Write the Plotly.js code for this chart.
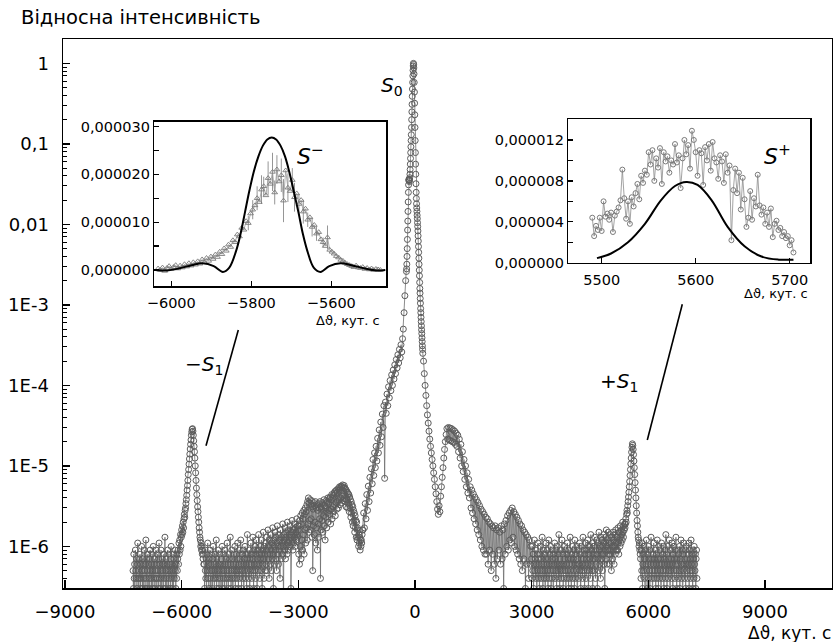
<!DOCTYPE html>
<html><head><meta charset="utf-8">
<script src="https://cdn.plot.ly/plotly-3.0.1.min.js"></script>
<style>html,body{margin:0;padding:0;background:#fff}#chart{width:833px;height:642px}</style>
</head><body><div id="chart"></div>
<script>
// ===================== DATA =====================
// Main scan: relative intensity vs. angle (arc seconds).
// Low-intensity parts are stored as detector counts (1 count = COUNT of relative intensity).
const COUNT = 1e-7;
const MICRO = 1e-6;   // inset values are stored in units of 1e-6

const floorLeftStart = -7250, floorLeftStep = 10;
const floorLeftCounts = [
5,3,8,4,6,2,9,5,4,7,3,6,11,4,5,2,7,4,8,3,
6,4,10,5,3,7,2,6,4,9,5,3,6,12,4,7,3,5,8,2,
6,4,7,3,9,5,4,6,2,8,5,3,10,4,6,7,3,5,4,9,
2,6,4,8,5,3,7,11,4,6,3,5,9,4,2,7,5,6,3,8,
4,6,13,3,5,7,4,2,6,9,5,3,8,4,6,5,3,7,10,4,
6,3,5,8,2,7,4,6,9,5,3,6,4,8,5,7];

const peakMinusStart = -6090, peakMinusStep = 10;
const peakMinusCounts = [9,6,11,8,12,9,14,10,13,16,14,18,15,20,17,22,25,23,28,30,
34,38,43,50,57,66,78,90,105,122,140,162,185,210,240,265,285,290,270,240,
205,175,150,125,100,82,66,53,44,37,31,27,23,20,17,15,13,12,10,11,
9,10,8,9,7,8,6];

const floorMidStart = -5420, floorMidStep = 10;
const floorMidCounts = [
6,3,9,5,4,7,2,8,5,11,4,6,3,7,5,9,4,2,6,8,
5,3,7,10,4,6,2,5,8,4,6,12,3,7,5,4,9,6,3,5,
8,4,6,2,7,5,10,3,6,4,8,5,3,9,6,4,7,2,5,11,
4,6,3,8,5,7,4,13,6,3,5,9,4,7,2,6,8,5,4,10,
3,6,5,8,4,7,11,5,3,6,9,4,7,5,12,6,3,8,5,4,
9,6,2,7,5,10,4,8,6,3,7,14,5,8,4,6,9,3,7,5,
11,6,4,8,5,13,7,3,9,6,5,10,4,8,12,6,3,7,9,5,
14,6,8,4,10,7,5,12,8,3,9,6,15,7,4,10,8,5,11,6,
9,13,5,8,16,7,10,4,12,8,6,14,9,5,11,7,17,8,3,12,
10,6,15,9,7,13,5,11,18,8,10,6,14,9,12,4,16,10,7,13,
11,8,19,10,2,14,12,9,17,7,13,10,15,8,20,11,9,16,12,14,
10,18,13,3,15,11,21,12,9,16,14,11,19,13,10,17,15,12,22,14,
13,18,16];

const bumpsStart = -2990, bumpsStep = 10;
const bumpsCounts = [
8,18,6,21,10,24,7,19,12,26,
9,22,14,28,8,25,16,30,11,27,
17,33,12,36,19,40,15,35,21,38,
16,34,22,37,13,31,5,29,18,35,
14,32,20,36,11,30,17,33,9,28,
19,34,13,30,22,36,4,31,16,29,
21,35,15,33,24,38,18,32,12,30,
23,37,17,35,26,40,20,34,28,39,
25,41,19,38,29,44,22,40,31,43,
27,46,33,48,24,45,35,50,29,47,
36,52,30,50,38,55,33,53,40,56,
35,55,42,58,37,54,44,57,39,53,
36,51,31,49,38,47,30,45,34,44,
27,41,30,38,23,36,26,33,20,31,
18,28,21,26,15,24,17,21,13,20,
12,17,13,16,10,14,11,13,9,12,
10,12,11,14,16];

const riseStart = -1340, riseStep = 20;
const riseVals = [1.6e-6,2.6e-6,1.7e-6,3.4e-6,2.2e-6,4.4e-6,2.8e-6,5.6e-6,3.6e-6,7.2e-6,
4.6e-6,9.2e-6,6.0e-6,1.2e-5,7.6e-6,1.45e-5,9.5e-6,1.75e-5,1.15e-5,2.2e-5,
1.45e-5,2.8e-5,1.8e-5,3.5e-5,2.3e-5,4.4e-5,3.0e-5,5.6e-5,7e-6,6.2e-5,
4.5e-5,7.8e-5,5.6e-5,9.6e-5,7.0e-5,1.15e-4,8.6e-5,1.35e-4,1.0e-4,1.55e-4,
1.2e-4,1.8e-4,1.4e-4,2.1e-4,1.65e-4,2.4e-4,1.9e-4,2.8e-4,2.2e-4,3.2e-4,
2.6e-4,3.8e-4,5.0e-4,8.0e-4,1.3e-3,2.0e-3,2.6e-3];

const centerStart = -215, centerStep = 5;
const centerVals = [2.8e-3,3.2e-3,4.0e-3,5.0e-3,6.5e-3,8.5e-3,1.1e-2,1.45e-2,1.9e-2,2.5e-2,
3.1e-2,3.6e-2,3.5e-2,3.6e-2,3.4e-2,3.6e-2,3.8e-2,4.2e-2,4.8e-2,5.6e-2,
6.6e-2,7.8e-2,9.2e-2,0.11,0.13,0.16,0.2,0.25,0.31,0.39,
0.48,0.58,0.7,0.82,0.93,1.0,0.97,0.88,0.74,0.58,
0.44,0.32,0.23,0.16,0.11,0.078,0.056,0.042,0.032,0.025,
0.021,0.018,0.016,0.0145,0.013,0.0118,0.0105,0.0094,0.0083,0.0072,
0.0062,0.0053,0.0045,0.0038,0.0032,0.0027,0.0023,0.0019,0.0016,0.0014,
0.0012,0.00105,9e-4,8e-4,7e-4,6.2e-4,5.5e-4,4.9e-4,4.4e-4,3.9e-4,
3.5e-4,3.1e-4,2.8e-4,2.5e-4];

const wingStart = 220, wingStep = 20;
const wingCounts = [
2000,1400,1000,750,560,430,340,270,215,175,145,120,100,82,68,55,45,36,29,25,
32,27,42,55,72,95,125,160,200,245,290,215,300,210,295,205,290,200,280,195,
270,185,255,175,240,150,215,125,185,100,150,85,120,68,100,55,82,46,68,40,
55,30,50,26,45,22,41,19,38,16,35,14,32,12,29,10,27,9,25,8,
23,8,22,6,20,9,19,5,18,8,17,6,18,4,16,7,17,9,15,6,
18,7,16,3,19,8,21,10,24,9,26,12,28,11,30,13,27,10,25,9,
23,8,21,7,19,6,18,5,16,7,15,3,14,6,13,4,12,6,10];

const floorRightStart = 3000, floorRightStep = 10;
const floorRightCounts = [
7,4,10,5,8,3,6,12,5,7,4,9,6,2,8,5,11,4,7,6,
3,8,5,10,4,7,6,13,5,3,9,6,4,8,5,2,7,11,4,6,
9,5,3,7,12,4,6,8,5,10,3,6,4,9,7,5,2,8,6,11,
4,7,5,9,3,6,10,5,8,4,14,6,3,7,5,9,4,6,12,5,
8,3,6,4,10,7,5,9,2,6,8,4,11,5,7,3,9,6,4,13,
5,7,3,8,6,10,4,7,5,9,3,12,6,4,8,5,10,2,7,6,
9,4,6,11,5,8,3,7,10,5,6,4,13,7,5,9,3,8,6,11,
4,7,9,5,12,6,3,8,10,5,7,4,14,6,9,5,11,3,8,7,
10,5,13,7,4,9,6,12,8,3,11,7,5,15,9,6,10,4,13,8,
7,12,5,10,8,14,6,11,3,9,13,7,16,10,6,12,9,15,8,11,
9,6,14,8,11,5,13,10,7,15,9,12,6,14,10,8,16,11,9,13,
13,9,17,11,8,15,12,10,18,13,11,16,14,12,20,15,13,18,16,19,
17];

const peakPlusStart = 5410, peakPlusStep = 10;
const peakPlusCounts = [19,22,20,25,28,26,32,36,41,47,55,64,76,90,106,125,148,170,188,180,
160,138,115,95,78,62,50,40,32,26,21,18,15,13,12,10,11,9,8];

const floorFarStart = 5800, floorFarStep = 10;
const floorFarCounts = [
7,4,9,5,11,3,6,8,5,10,4,7,2,9,6,12,5,3,8,6,
4,10,7,5,3,9,6,13,4,7,5,2,8,6,11,4,7,5,9,3,
6,8,4,12,5,7,3,10,6,4,9,5,7,2,11,6,4,8,5,10,
3,7,6,9,4,14,5,8,3,6,10,4,7,5,12,6,2,9,5,7,
4,11,6,3,8,5,10,7,4,9,6,13,5,3,7,6,9,4,8,5,
10,3,7,5,12,4,6,9,2,8,5,11,6,4,7,9,3,6,10,5,
7,4,8,6,11,3,9,5,7,4,12,6,5,8,3,9,7,4,10,6,
5,8,3,7,9,4];

// Inset S− : measured points (with error bars) and calculated curve
const sMinusStart = -6033, sMinusStep = 5.5;
const sMinusE6 = [0.3,0.0,0.5,-0.2,0.4,0.8,0.2,0.6,1.0,0.3,0.9,0.5,1.2,0.7,1.4,0.9,1.6,1.1,1.8,1.3,
2.2,1.6,2.5,1.9,2.8,2.3,3.2,2.7,3.8,3.3,4.5,4.0,5.3,4.8,6.2,5.8,7.4,7.0,8.8,8.4,
10.2,9.8,11.8,12.6,13.5,15.0,14.2,16.8,17.5,15.6,19.2,18.0,20.5,16.2,21.0,18.5,19.8,14.5,20.8,17.2,
16.5,18.8,15.2,16.0,13.8,14.6,12.2,12.8,10.5,11.0,9.0,9.4,7.6,7.9,6.4,5.8,5.0,6.8,4.2,3.8,
3.4,2.9,2.6,2.1,1.9,1.5,1.2,1.0,0.8,0.6,0.9,0.5,0.4,0.6,0.2,0.4,0.1,0.3,0.0,0.2,
0.1,0.0];
const sMinusErrE6 = [0,0,0,0,0,0,0,0,0,0,0,0,0,0,0,0,0,0,0,0,
0,0,0,0,0,0,0,0,0,0,0,0,0,0,0,0,0,0,0,0,
0,1.5,0,2.0,0,2.5,0,3.0,2.0,0,3.5,0,4.0,2.5,3.0,0,3.5,4.5,0,3.0,
0,2.5,3.0,0,2.0,0,2.5,0,1.5,0,2.0,0,1.5,0,0,1.0,0,2.5,0,0,
0,0,0,0,0,0,0,0,0,0,0,0,0,0,0,0,0,0,0,0,
0,0];
const sMinusFitX = [-6040,-6010,-5982,-5949,-5921,-5894,-5871,-5855,-5838,-5827,-5816,-5805,-5794,-5782,-5771,-5760,-5749,-5738,-5727,-5716,-5705,-5694,-5682,-5671,-5660,-5644,-5627,-5605,-5577,-5549,-5516,-5488,-5465];
const sMinusFitE6 = [0,-0.1,0.3,1.0,1.4,0.8,-0.4,0.5,4.0,7.5,12.0,16.5,20.5,23.8,26.0,27.3,27.7,27.3,26.0,23.8,20.5,16.5,12.0,7.5,4.0,0.5,-0.4,0.8,1.4,1.0,0.3,-0.1,0];

// Inset S+
const sPlusStart = 5490, sPlusStep = 2;
const sPlusE6 = [4.4,2.6,3.6,3.2,4.4,3.1,6.0,4.5,4.8,4.2,4.9,3.0,4.6,5.0,5.4,6.1,9.1,6.3,4.3,6.0,
3.8,6.4,5.5,6.8,7.7,6.2,8.5,7.8,9.0,8.6,10.8,9.6,11.0,8.0,10.2,9.3,11.2,7.7,10.8,9.9,
10.4,8.8,10.0,9.6,11.6,9.8,10.5,7.3,10.2,12.0,10.6,11.5,9.2,12.9,12.0,10.8,8.5,11.0,10.7,7.6,
11.3,10.0,11.6,9.0,11.8,10.2,9.8,8.2,10.5,9.9,7.8,10.6,8.8,9.5,2.2,7.1,9.2,6.8,8.8,5.2,
8.3,6.2,3.5,4.4,7.0,4.2,6.3,5.5,8.6,5.6,4.7,5.4,3.8,4.9,3.5,5.3,2.5,3.8,4.1,3.2,
3.4,2.6,3.0,2.4,2.6,1.7,2.2,1.0];
const sPlusFitX = [5495,5510,5528,5546,5563,5578,5590,5602,5617,5634,5652,5670,5688,5704];
const sPlusFitE6 = [0.45,0.9,2.0,3.8,6.1,7.5,7.9,7.6,6.1,3.5,1.6,0.6,0.3,0.3];

// Tick labels (empty label = unlabelled intermediate tick)
const mainXTicks = [-9000,-6000,-3000,0,3000,6000,9000];
const mainXLabels = ['\u22129000','\u22126000','\u22123000','0','3000','6000','9000'];
const mainYTicks = [1e-6,1e-5,1e-4,1e-3,0.01,0.1,1];
const mainYLabels = ['1E-6','1E-5','1E-4','1E-3','0,01','0,1','1'];
const inset1YTicks = [0,5e-6,1e-5,1.5e-5,2e-5,2.5e-5,3e-5];
const inset1YLabels = ['0,000000','','0,000010','','0,000020','','0,000030'];
const inset1XTicks = [-6000,-5800,-5600];
const inset1XLabels = ['\u22126000','\u22125800','\u22125600'];
const inset2YTicks = [0,2e-6,4e-6,6e-6,8e-6,1e-5,1.2e-5];
const inset2YLabels = ['0,000000','','0,000004','','0,000008','','0,000012'];
const inset2XTicks = [5500,5600,5700];
const inset2XLabels = ['5500','5600','5700'];

// ===================== BUILD =====================
const mx = [], my = [];
function addSeg(start, step, vals, scale){
  vals.forEach((v,i)=>{ mx.push(start+i*step); my.push(v*scale); });
}
addSeg(floorLeftStart, floorLeftStep, floorLeftCounts, COUNT);
addSeg(peakMinusStart, peakMinusStep, peakMinusCounts, COUNT);
addSeg(floorMidStart, floorMidStep, floorMidCounts, COUNT);
addSeg(bumpsStart, bumpsStep, bumpsCounts, COUNT);
addSeg(riseStart, riseStep, riseVals, 1);
addSeg(centerStart, centerStep, centerVals, 1);
addSeg(wingStart, wingStep, wingCounts, COUNT);
addSeg(floorRightStart, floorRightStep, floorRightCounts, COUNT);
addSeg(peakPlusStart, peakPlusStep, peakPlusCounts, COUNT);
addSeg(floorFarStart, floorFarStep, floorFarCounts, COUNT);

const s1x = sMinusE6.map((v,i)=>sMinusStart+i*sMinusStep);
const s1y = sMinusE6.map(v=>v*MICRO);
const s1e = sMinusErrE6.map(v=>v*MICRO);
const s2x = sPlusE6.map((v,i)=>sPlusStart+i*sPlusStep);
const s2y = sPlusE6.map(v=>v*MICRO);

const GRAY = '#7a7a7a';
const traces = [
  {x:mx, y:my, type:'scatter', mode:'lines+markers', xaxis:'x', yaxis:'y',
   line:{color:'#6e6e6e', width:0.8},
   marker:{symbol:'circle-open', size:6, color:'#5c5c5c', line:{width:1}}},
  {x:s1x, y:s1y, type:'scatter', mode:'lines+markers', xaxis:'x2', yaxis:'y2',
   line:{color:'#9a9a9a', width:0.8},
   marker:{symbol:'triangle-up-open', size:5, color:GRAY, line:{width:0.9}},
   error_y:{type:'data', array:s1e, visible:true, color:'#8a8a8a', thickness:0.9, width:0}},
  {x:sMinusFitX, y:sMinusFitE6.map(v=>v*MICRO), type:'scatter', mode:'lines', xaxis:'x2', yaxis:'y2',
   line:{color:'#000', width:2, shape:'spline', smoothing:1}},
  {x:s2x, y:s2y, type:'scatter', mode:'lines+markers', xaxis:'x3', yaxis:'y3',
   line:{color:'#8c8c8c', width:0.8},
   marker:{symbol:'circle-open', size:5, color:GRAY, line:{width:1}}},
  {x:sPlusFitX, y:sPlusFitE6.map(v=>v*MICRO), type:'scatter', mode:'lines', xaxis:'x3', yaxis:'y3',
   line:{color:'#000', width:2, shape:'spline', smoothing:1}}
];

// ===================== LAYOUT =====================
const W=833, H=642, ML=63, MR=1, MT=39, MB=54;
const PW = W-ML-MR, PH = H-MT-MB;
const px = v => (v-ML)/PW;          // pixel x -> paper
const py = v => (H-MB-v)/PH;        // pixel y -> paper

const minorLog = [];
for (let e=-7;e<=0;e++) for (let m=2;m<=9;m++) minorLog.push(m*Math.pow(10,e));

const FONT = 'DejaVu Sans, Verdana, sans-serif';
const frame = {showline:true, linecolor:'#000', linewidth:1.5, mirror:true, showgrid:false, zeroline:false,
  ticks:'inside', tickcolor:'#000', tickwidth:1.3};

const layout = {
  width:W, height:H, margin:{l:ML,r:MR,t:MT,b:MB,pad:0},
  paper_bgcolor:'#fff', plot_bgcolor:'rgba(0,0,0,0)', showlegend:false,
  font:{family:FONT, color:'#000'},
  xaxis:Object.assign({}, frame, {domain:[0,1], anchor:'y', range:[-9051,10723],
    tickmode:'array', tickvals:mainXTicks, ticktext:mainXLabels, ticklen:8, ticklabelstandoff:7,
    tickfont:{size:18, family:FONT}}),
  yaxis:Object.assign({}, frame, {domain:[0,1], anchor:'x', type:'log', range:[-6.517,0.303],
    tickmode:'array', tickvals:mainYTicks, ticktext:mainYLabels, ticklen:7, ticklabelstandoff:9,
    tickfont:{size:18, family:FONT},
    minor:{tickmode:'array', tickvals:minorLog, ticks:'inside', ticklen:4, tickcolor:'#000', tickwidth:1, showgrid:false}}),
  xaxis2:Object.assign({}, frame, {domain:[px(154.3),px(386)], anchor:'y2', range:[-6042.5,-5463.3],
    tickmode:'array', tickvals:inset1XTicks, ticktext:inset1XLabels, ticklen:5, ticklabelstandoff:3,
    tickfont:{size:14.5, family:FONT}}),
  yaxis2:Object.assign({}, frame, {domain:[py(286),py(121.7)], anchor:'x2', range:[-3.35e-6,3.1e-5],
    tickmode:'array', tickvals:inset1YTicks, ticktext:inset1YLabels, ticklen:5,
    tickfont:{size:14.5, family:FONT}}),
  xaxis3:Object.assign({}, frame, {domain:[px(568.3),px(810)], anchor:'y3', range:[5464.5,5721.6],
    tickmode:'array', tickvals:inset2XTicks, ticktext:inset2XLabels, ticklen:5, ticklabelstandoff:3,
    tickfont:{size:14.5, family:FONT}}),
  yaxis3:Object.assign({}, frame, {domain:[py(262.7),py(119.3)], anchor:'x3', range:[0,1.402e-5],
    tickmode:'array', tickvals:inset2YTicks, ticktext:inset2YLabels, ticklen:5,
    tickfont:{size:14.5, family:FONT}}),
  annotations:[
    {xref:'paper', yref:'paper', x:px(19), y:py(18), xanchor:'left', yanchor:'middle', showarrow:false,
     text:'Відносна інтенсивність', font:{size:19.5, family:FONT}},
    {xref:'paper', yref:'paper', x:px(833), y:py(633), xanchor:'right', yanchor:'middle', showarrow:false,
     text:'Δϑ, кут. с', font:{size:17, family:FONT}},
    {xref:'paper', yref:'paper', x:px(382), y:py(320), xanchor:'right', yanchor:'middle', showarrow:false,
     text:'Δϑ, кут. с', font:{size:13, family:FONT}},
    {xref:'paper', yref:'paper', x:px(810), y:py(293), xanchor:'right', yanchor:'middle', showarrow:false,
     text:'Δϑ, кут. с', font:{size:13, family:FONT}},
    {xref:'paper', yref:'paper', x:px(392), y:py(86), xanchor:'center', yanchor:'middle', showarrow:false,
     text:'<i>S</i><sub>0</sub>', font:{size:20, family:FONT}},
    {xref:'paper', yref:'paper', x:px(204), y:py(365), xanchor:'center', yanchor:'middle', showarrow:false,
     text:'\u2212<i>S</i><sub>1</sub>', font:{size:20, family:FONT}},
    {xref:'paper', yref:'paper', x:px(619), y:py(382), xanchor:'center', yanchor:'middle', showarrow:false,
     text:'+<i>S</i><sub>1</sub>', font:{size:20, family:FONT}},
    {xref:'paper', yref:'paper', x:px(310), y:py(155), xanchor:'center', yanchor:'middle', showarrow:false,
     text:'<i>S</i><sup>\u2212</sup>', font:{size:22, family:FONT}},
    {xref:'paper', yref:'paper', x:px(777), y:py(155), xanchor:'center', yanchor:'middle', showarrow:false,
     text:'<i>S</i><sup>+</sup>', font:{size:22, family:FONT}}
  ],
  shapes:[
    {type:'line', xref:'paper', yref:'paper', x0:px(238.3), y0:py(330), x1:px(206), y1:py(445.7), line:{color:'#000', width:1.6}},
    {type:'line', xref:'paper', yref:'paper', x0:px(682.3), y0:py(304.3), x1:px(647.3), y1:py(440), line:{color:'#000', width:1.6}}
  ]
};

Plotly.newPlot('chart', traces, layout, {displayModeBar:false, staticPlot:true});
</script>
</body></html>
